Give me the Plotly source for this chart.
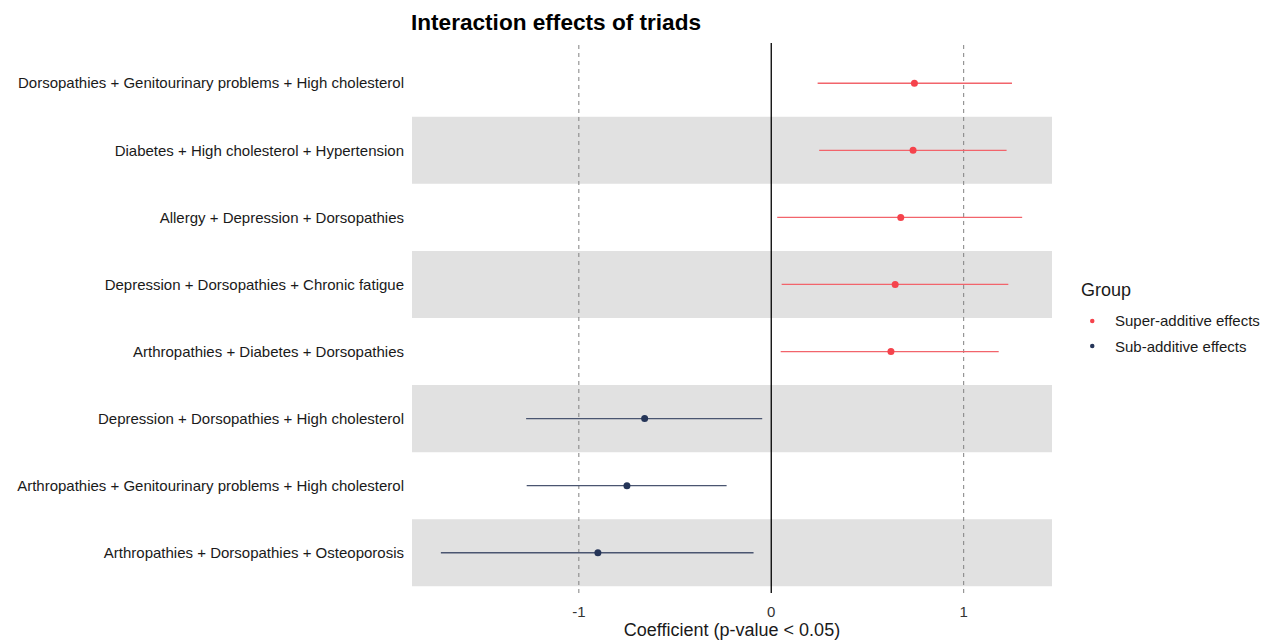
import plotly.graph_objects as go

labels = [
    "Dorsopathies + Genitourinary problems + High cholesterol",
    "Diabetes + High cholesterol + Hypertension",
    "Allergy + Depression + Dorsopathies",
    "Depression + Dorsopathies + Chronic fatigue",
    "Arthropathies + Diabetes + Dorsopathies",
    "Depression + Dorsopathies + High cholesterol",
    "Arthropathies + Genitourinary problems + High cholesterol",
    "Arthropathies + Dorsopathies + Osteoporosis",
]
estimate = [0.744, 0.737, 0.673, 0.644, 0.622, -0.658, -0.750, -0.901]
ci_low = [0.241, 0.249, 0.031, 0.054, 0.049, -1.274, -1.271, -1.717]
ci_high = [1.251, 1.223, 1.304, 1.232, 1.182, -0.047, -0.232, -0.092]
group = ["Super-additive effects"] * 5 + ["Sub-additive effects"] * 3
group_order = ["Super-additive effects", "Sub-additive effects"]
x_ticks = [-1, 0, 1]

colors = {"Super-additive effects": "#F5434C", "Sub-additive effects": "#253558"}
line_colors = {"Super-additive effects": "#F2646B", "Sub-additive effects": "#4A5570"}

W, H = 1271, 641
ML, MR, MT, MB = 412, 219, 43, 48
PW, PH = W - ML - MR, H - MT - MB


def px_x(p):
    return (p - ML) / PW


def px_y(p):
    return (H - MB - p) / PH


ypos = list(range(len(labels)))

fig = go.Figure()

# alternating bands
for i in ypos:
    if i % 2 == 1:
        fig.add_shape(type="rect", xref="paper", yref="y", x0=0, x1=1,
                      y0=i - 0.5, y1=i + 0.5, fillcolor="#E1E1E1",
                      line=dict(width=0), layer="below")

for v in x_ticks:
    if v == 0:
        fig.add_shape(type="line", xref="x", yref="paper", x0=v, x1=v, y0=0, y1=1,
                      line=dict(color="black", width=1.3), layer="below")
    else:
        fig.add_shape(type="line", xref="x", yref="paper", x0=v, x1=v, y0=0, y1=1,
                      line=dict(color="#808080", width=1, dash="4px,4px"), layer="below")

for g in group_order:
    idx = [i for i in ypos if group[i] == g]
    xs = [estimate[i] for i in idx]
    ys = [ypos[i] for i in idx]
    plus = [ci_high[i] - estimate[i] for i in idx]
    minus = [estimate[i] - ci_low[i] for i in idx]
    fig.add_trace(go.Scatter(
        x=xs, y=ys, mode="markers", name=g, showlegend=False,
        marker=dict(color=colors[g], size=7),
        error_x=dict(type="data", symmetric=False, array=plus, arrayminus=minus,
                     color=line_colors[g], thickness=1.3, width=0),
    ))

# manual legend (kept outside the plot area without pushing margins)
fig.add_annotation(text="Group", xref="paper", yref="paper", x=px_x(1079), y=px_y(290),
                   xanchor="left", yanchor="middle", showarrow=False,
                   font=dict(size=18, color="#1a1a1a"))
for k, g in enumerate(group_order):
    cy = 321 + 25 * k
    fig.add_shape(type="circle", xref="paper", yref="paper",
                  x0=px_x(1090), x1=px_x(1094.5), y0=px_y(cy + 2.25), y1=px_y(cy - 2.25),
                  fillcolor=colors[g], line=dict(width=0))
    fig.add_annotation(text=g, xref="paper", yref="paper", x=px_x(1113), y=px_y(cy),
                       xanchor="left", yanchor="middle", showarrow=False,
                       font=dict(size=15, color="#1a1a1a"))

fig.update_layout(
    width=W, height=H,
    margin=dict(l=ML, r=MR, t=MT, b=MB),
    showlegend=False,
    paper_bgcolor="white", plot_bgcolor="white",
    font=dict(family="Liberation Sans, Arial, sans-serif", color="#1a1a1a", size=15),
    title=dict(text="<b>Interaction effects of triads</b>", x=411 / W, xanchor="left",
               y=1 - 22 / H, yanchor="middle",
               font=dict(size=22.6, color="black")),
    xaxis=dict(range=[-1.867, 1.459], tickvals=x_ticks, ticktext=[str(v) for v in x_ticks],
               showgrid=False, zeroline=False, showline=False, ticks="", automargin=False,
               tickfont=dict(size=15, color="#333333"), ticklabelstandoff=8,
               title=dict(text="Coefficient (p-value < 0.05)", font=dict(size=18, color="#1a1a1a"),
                          standoff=2)),
    yaxis=dict(range=[7.6, -0.6], tickvals=ypos, ticktext=labels, automargin=False,
               showgrid=False, zeroline=False, showline=False, ticks="",
               tickfont=dict(size=15, color="#1a1a1a"), ticklabelstandoff=7),
)

fig.write_html("out.html")
